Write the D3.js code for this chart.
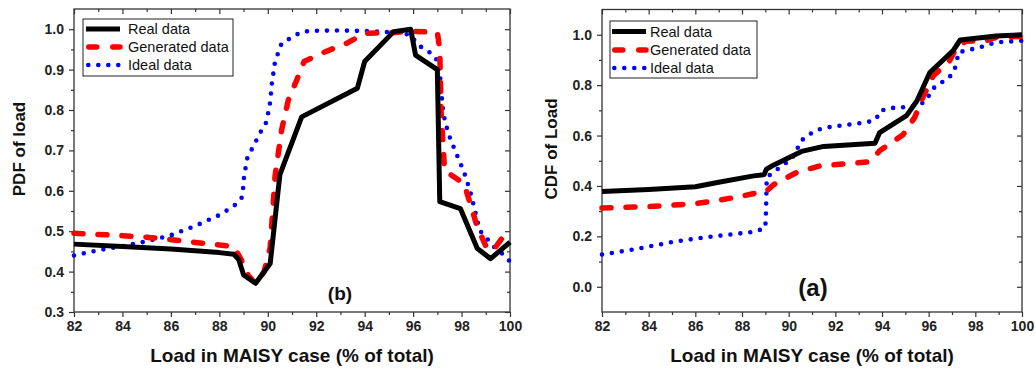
<!DOCTYPE html>
<html>
<head>
<meta charset="utf-8">
<script src="https://cdn.jsdelivr.net/npm/d3@7"></script>
<style>
  body { margin: 0; background: #fff; }
  svg { font-family: Arial, "Liberation Sans", sans-serif; }
  .tick text { font-weight: bold; font-size: 14px; fill: #222; }
  .tick line { stroke: #333; stroke-width: 1.2; }
</style>
</head>
<body>
<svg id="chart" width="1035" height="369"></svg>
<script>
// Load values on the x axis (% of total)
const xMajor = [82, 84, 86, 88, 90, 92, 94, 96, 98, 100];
const xMinor = [83, 85, 87, 89, 91, 93, 95, 97, 99];

// PDF panel (b)
const pdfReal = [[82, 0.468], [84, 0.462], [86, 0.456], [88, 0.447], [88.6, 0.443], [88.8, 0.43], [89.0, 0.392], [89.5, 0.371], [90.1, 0.42], [90.5, 0.64], [91.4, 0.783], [93.7, 0.854], [94.0, 0.92], [95.2, 0.994], [95.9, 1.0], [96.1, 0.936], [97.0, 0.9], [97.1, 0.573], [97.95, 0.556], [98.65, 0.457], [99.2, 0.432], [100, 0.473]];
const pdfGenerated = [[82, 0.495], [83, 0.492], [84, 0.489], [85, 0.485], [86, 0.479], [87, 0.472], [88, 0.466], [88.6, 0.462], [88.9, 0.43], [89.2, 0.39], [89.5, 0.37], [89.85, 0.40], [90.1, 0.46], [90.3, 0.636], [90.57, 0.75], [90.85, 0.825], [91.2, 0.875], [91.5, 0.92], [92.2, 0.94], [93.25, 0.965], [94.0, 0.99], [95.3, 0.992], [95.9, 0.995], [97.0, 0.992], [97.1, 0.95], [97.15, 0.8], [97.3, 0.65], [98.1, 0.618], [98.4, 0.56], [98.65, 0.51], [99.05, 0.457], [99.3, 0.452], [99.7, 0.485], [100, 0.497]];
const pdfIdeal = [[82, 0.44], [83, 0.453], [84, 0.463], [85, 0.475], [86, 0.49], [87, 0.513], [88, 0.54], [88.6, 0.562], [88.95, 0.585], [89.02, 0.635], [89.15, 0.68], [89.4, 0.71], [89.7, 0.745], [89.95, 0.771], [90.1, 0.82], [90.17, 0.866], [90.3, 0.92], [90.57, 0.965], [91.0, 0.98], [91.35, 0.992], [91.75, 0.996], [93, 0.997], [94.2, 0.995], [95.3, 0.992], [95.9, 0.986], [96.15, 0.965], [96.45, 0.95], [96.8, 0.939], [97.04, 0.918], [97.1, 0.895], [97.17, 0.84], [97.25, 0.79], [97.45, 0.742], [97.75, 0.697], [98.1, 0.647], [98.35, 0.60], [98.55, 0.552], [98.75, 0.502], [99.05, 0.482], [99.3, 0.463], [99.6, 0.449], [100, 0.425]];
const pdfMajor = [0.3, 0.4, 0.5, 0.6, 0.7, 0.8, 0.9, 1.0];
const pdfMinor = [0.35, 0.45, 0.55, 0.65, 0.75, 0.85, 0.95];

// CDF panel (a)
const cdfReal = [[82, 0.378], [84, 0.386], [86, 0.397], [87, 0.415], [88.5, 0.44], [88.95, 0.445], [89.05, 0.467], [89.3, 0.48], [90.55, 0.537], [91.5, 0.557], [93.7, 0.569], [93.9, 0.612], [95.05, 0.679], [95.5, 0.738], [96.05, 0.85], [97.05, 0.937], [97.35, 0.979], [98.9, 0.995], [100, 1.0]];
const cdfGenerated = [[82, 0.313], [84, 0.318], [86, 0.33], [87, 0.343], [88, 0.36], [88.6, 0.372], [89.0, 0.375], [89.35, 0.405], [90.35, 0.454], [91.35, 0.48], [92.35, 0.487], [93.5, 0.496], [93.9, 0.54], [94.9, 0.603], [95.4, 0.672], [95.75, 0.751], [96.2, 0.837], [96.9, 0.897], [97.2, 0.95], [97.6, 0.974], [98.5, 0.977], [98.9, 0.99], [100, 0.993]];
const cdfIdeal = [[82, 0.128], [83.4, 0.149], [85.1, 0.179], [86.4, 0.196], [88.6, 0.219], [89.0, 0.235], [89.03, 0.3], [89.06, 0.434], [89.35, 0.455], [89.77, 0.484], [90.13, 0.507], [90.34, 0.54], [90.5, 0.577], [90.85, 0.602], [91.2, 0.622], [91.63, 0.632], [92.5, 0.643], [93.35, 0.652], [93.75, 0.665], [93.92, 0.698], [94.35, 0.709], [95.2, 0.714], [95.62, 0.722], [95.92, 0.741], [96.12, 0.78], [96.4, 0.804], [96.76, 0.82], [97.07, 0.85], [97.2, 0.89], [97.27, 0.93], [97.7, 0.939], [98.2, 0.95], [98.9, 0.97], [100, 0.976]];
const cdfMajor = [0.0, 0.2, 0.4, 0.6, 0.8, 1.0];
const cdfMinor = [-0.1, 0.1, 0.3, 0.5, 0.7, 0.9];

const seriesNames = ["Real data", "Generated data", "Ideal data"];

// line looks, same order as seriesNames
const styles = [
    { color: "#000000", width: 5, dash: null, cap: "butt" },
    { color: "#ff0000", width: 5.5, dash: "9,15", cap: "round" },
    { color: "#0000ff", width: 4.6, dash: "0,10", cap: "round" }
];

const svg = d3.select("#chart");

drawPanel({
    left: 74, right: 510, top: 9, bottom: 312,
    yDomain: [0.3, 1.05], yMajor: pdfMajor, yMinor: pdfMinor,
    series: [pdfReal, pdfGenerated, pdfIdeal],
    yLabel: "PDF of load", yLabelX: 25,
    legend: { x: 83, y: 19, w: 150, h: 57, rows: [29, 47, 65], lineX: [86, 120], textX: 128 },
    tag: { text: "(b)", x: 340, y: 300, size: 19 }
});

drawPanel({
    left: 602, right: 1022, top: 9.5, bottom: 312,
    yDomain: [-0.1, 1.1], yMajor: cdfMajor, yMinor: cdfMinor,
    series: [cdfReal, cdfGenerated, cdfIdeal],
    yLabel: "CDF of Load", yLabelX: 557,
    legend: { x: 610, y: 21, w: 147, h: 57, rows: [31.5, 50, 68], lineX: [612, 646], textX: 650 },
    tag: { text: "(a)", x: 813, y: 296, size: 24 }
});

function drawPanel(p) {
    const x = d3.scaleLinear().domain([82, 100]).range([p.left, p.right]);
    const y = d3.scaleLinear().domain(p.yDomain).range([p.bottom, p.top]);
    const inside = v => y(v) > p.top + 1 && y(v) < p.bottom - 1;

    const g = svg.append("g");

    // bottom axis, ticks outside
    g.append("g")
        .attr("transform", `translate(0,${p.bottom})`)
        .call(d3.axisBottom(x).tickValues(xMajor).tickSize(5).tickPadding(4).tickFormat(d3.format("d")))
        .call(a => a.select(".domain").remove());
    g.append("g")
        .attr("transform", `translate(0,${p.bottom})`)
        .call(d3.axisBottom(x).tickValues(xMinor).tickSize(3).tickFormat(""))
        .call(a => a.select(".domain").remove());

    // top axis, ticks inside
    g.append("g")
        .attr("transform", `translate(0,${p.top})`)
        .call(d3.axisTop(x).tickValues(xMajor).tickSize(-5).tickFormat(""))
        .call(a => a.select(".domain").remove());
    g.append("g")
        .attr("transform", `translate(0,${p.top})`)
        .call(d3.axisTop(x).tickValues(xMinor).tickSize(-3).tickFormat(""))
        .call(a => a.select(".domain").remove());

    // left axis, ticks outside
    g.append("g")
        .attr("transform", `translate(${p.left},0)`)
        .call(d3.axisLeft(y).tickValues(p.yMajor).tickSize(5).tickPadding(5).tickFormat(d3.format(".1f")))
        .call(a => a.select(".domain").remove());
    g.append("g")
        .attr("transform", `translate(${p.left},0)`)
        .call(d3.axisLeft(y).tickValues(p.yMinor.filter(inside)).tickSize(3).tickFormat(""))
        .call(a => a.select(".domain").remove());

    // right axis, ticks inside
    g.append("g")
        .attr("transform", `translate(${p.right},0)`)
        .call(d3.axisRight(y).tickValues(p.yMajor).tickSize(-5).tickFormat(""))
        .call(a => a.select(".domain").remove());
    g.append("g")
        .attr("transform", `translate(${p.right},0)`)
        .call(d3.axisRight(y).tickValues(p.yMinor.filter(inside)).tickSize(-3).tickFormat(""))
        .call(a => a.select(".domain").remove());

    // frame
    g.append("rect")
        .attr("x", p.left)
        .attr("y", p.top)
        .attr("width", p.right - p.left)
        .attr("height", p.bottom - p.top)
        .attr("fill", "none")
        .attr("stroke", "#333")
        .attr("stroke-width", 1.3);

    const line = d3.line().x(d => x(d[0])).y(d => y(d[1]));

    // ideal first, real on top
    [2, 1, 0].forEach(i => {
        const s = styles[i];
        g.append("path")
            .datum(p.series[i])
            .attr("d", line)
            .attr("fill", "none")
            .attr("stroke", s.color)
            .attr("stroke-width", s.width)
            .attr("stroke-linecap", s.cap)
            .attr("stroke-linejoin", "round")
            .attr("stroke-dasharray", s.dash);
    });

    // legend
    const lg = p.legend;
    g.append("rect")
        .attr("x", lg.x).attr("y", lg.y)
        .attr("width", lg.w).attr("height", lg.h)
        .attr("fill", "#fff")
        .attr("stroke", "#222")
        .attr("stroke-width", 1);

    seriesNames.forEach((name, i) => {
        const s = styles[i];
        g.append("line")
            .attr("x1", lg.lineX[0] + (s.cap === "round" ? s.width / 2 : 0))
            .attr("x2", lg.lineX[1])
            .attr("y1", lg.rows[i])
            .attr("y2", lg.rows[i])
            .attr("stroke", s.color)
            .attr("stroke-width", s.width)
            .attr("stroke-linecap", s.cap)
            .attr("stroke-dasharray", i === 1 ? "8,16" : s.dash);
        g.append("text")
            .attr("x", lg.textX)
            .attr("y", lg.rows[i])
            .attr("dy", "0.35em")
            .attr("font-size", 14.5)
            .attr("fill", "#111")
            .text(name);
    });

    // axis titles
    g.append("text")
        .attr("x", (p.left + p.right) / 2)
        .attr("y", 362)
        .attr("text-anchor", "middle")
        .attr("font-size", 19)
        .attr("font-weight", "bold")
        .attr("fill", "#111")
        .text("Load in MAISY case (% of total)");

    g.append("text")
        .attr("transform", `translate(${p.yLabelX},149) rotate(-90)`)
        .attr("text-anchor", "middle")
        .attr("font-size", 17)
        .attr("font-weight", "bold")
        .attr("fill", "#111")
        .text(p.yLabel);

    // panel tag
    g.append("text")
        .attr("x", p.tag.x)
        .attr("y", p.tag.y)
        .attr("text-anchor", "middle")
        .attr("font-size", p.tag.size)
        .attr("font-weight", "bold")
        .attr("fill", "#111")
        .text(p.tag.text);
}
</script>
</body>
</html>
